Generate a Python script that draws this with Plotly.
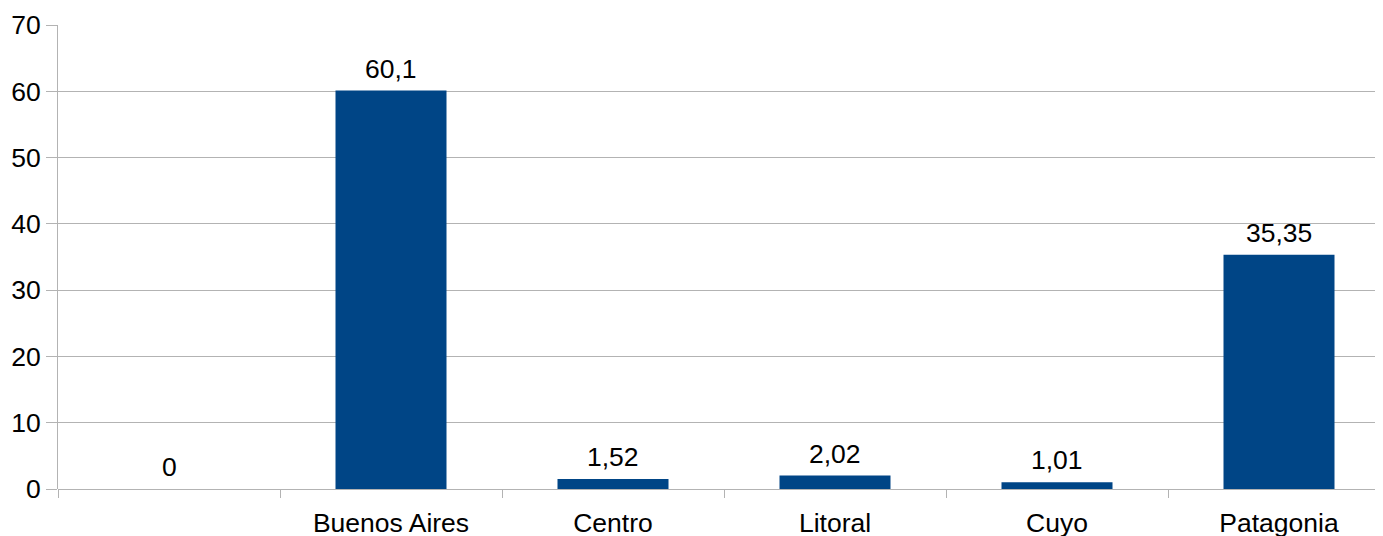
import plotly.graph_objects as go

categories = [" ", "Buenos Aires", "Centro", "Litoral", "Cuyo", "Patagonia"]
values = [0, 60.1, 1.52, 2.02, 1.01, 35.35]
labels = [f"{v:g}".replace(".", ",") for v in values]
y_ticks = [0, 10, 20, 30, 40, 50, 60, 70]

BAR = "#004586"
GRID = "#b3b3b3"
FONT = "Liberation Sans, Arial, sans-serif"
FS = 26.5

fig = go.Figure()
fig.add_trace(go.Bar(x=categories, y=values, marker=dict(color=BAR, line=dict(width=0)),
                     width=0.5, hoverinfo="skip"))

for c, v, t in zip(categories, values, labels):
    fig.add_annotation(x=c, y=v, text=t, showarrow=False, yanchor="bottom",
                       yshift=5, font=dict(family=FONT, size=FS, color="black"))

fig.update_layout(
    width=1383, height=536,
    margin=dict(l=50, r=1, t=17, b=55),
    paper_bgcolor="white", plot_bgcolor="white",
    showlegend=False,
    font=dict(family=FONT, size=FS, color="black"),
)
fig.update_xaxes(
    type="category", range=[-0.5, 5.5], tickson="boundaries",
    ticks="outside", ticklen=8, tickcolor=GRID, tickwidth=1,
    showline=False, showgrid=False, zeroline=False,
    ticklabelstandoff=15,
    tickfont=dict(family=FONT, size=FS, color="black"),
)
fig.update_yaxes(
    range=[0, 70], tickvals=y_ticks, ticktext=[str(t) for t in y_ticks],
    ticks="outside", ticklen=11, tickcolor=GRID, tickwidth=1,
    showline=True, linecolor=GRID, linewidth=1,
    showgrid=True, gridcolor=GRID, gridwidth=1,
    zeroline=True, zerolinecolor=GRID, zerolinewidth=1,
    ticklabelstandoff=0,
    tickfont=dict(family=FONT, size=FS, color="black"),
)
fig.write_html("out.html")
